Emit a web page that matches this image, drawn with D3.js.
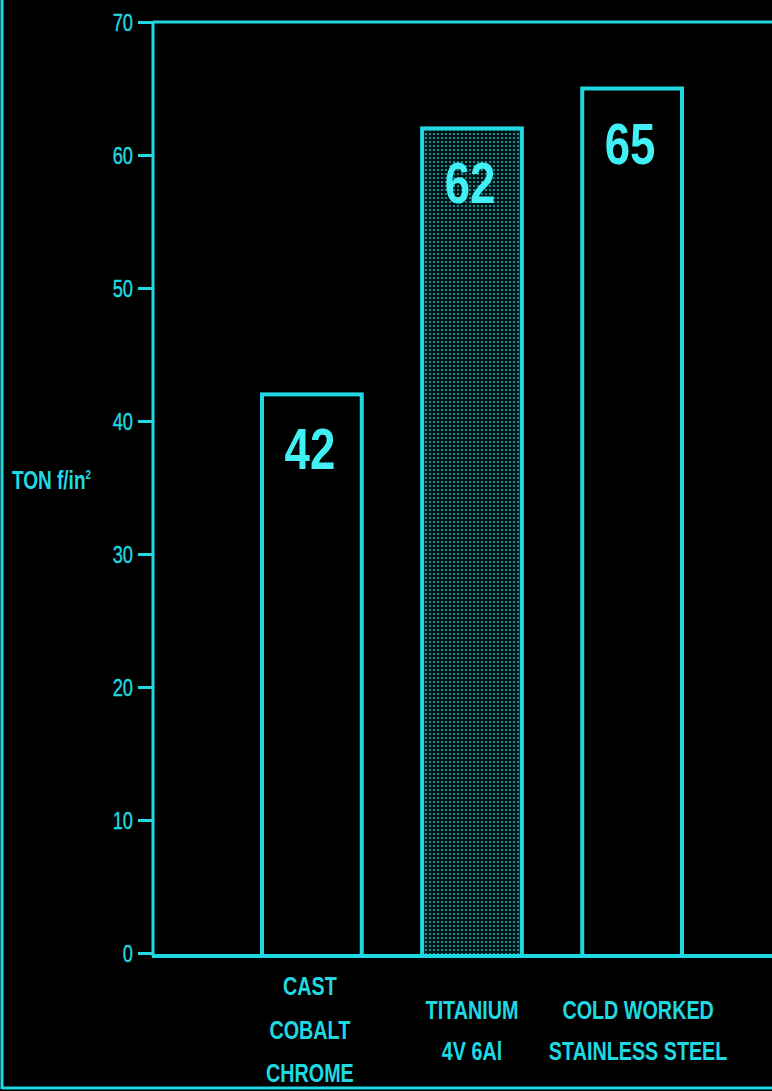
<!DOCTYPE html>
<html><head><meta charset="utf-8">
<script src="https://cdn.jsdelivr.net/npm/d3@7/dist/d3.min.js"></script>
<style>html,body{margin:0;padding:0;background:#000;}svg{display:block;}</style>
</head><body>
<script>
const categories = [["CAST","COBALT","CHROME"],["TITANIUM","4V 6Al"],["COLD WORKED","STAINLESS STEEL"]];
const values = [42, 62, 65];
const patterned = [false, true, false];
const yTicks = [0,10,20,30,40,50,60,70];
const yTitle = "TON f/in";

const W = 772, H = 1091;
const C = "#20d8e2";
const FONT = "'Liberation Sans',Arial,sans-serif";
const SX = 0.76; // horizontal condensing
const svg = d3.select("body").append("svg").attr("width", W).attr("height", H).style("background","#000");

const defs = svg.append("defs");
const pat = defs.append("pattern").attr("id","dots").attr("width",4).attr("height",4).attr("patternUnits","userSpaceOnUse");
pat.append("rect").attr("width",4).attr("height",4).attr("fill","#021416");
pat.append("circle").attr("cx",2).attr("cy",2).attr("r",1.1).attr("fill","#1aa6ae");

const x0 = 153, y0 = 953, yTop = 22;
const y = d3.scaleLinear().domain([0,70]).range([y0, yTop]);
const x = d3.scaleBand().domain(d3.range(values.length)).range([262, 682]).paddingInner(0.377).paddingOuter(0);

function ctext(g, cx, cy, txt, size, weight, fill, sx){
  return g.append("text").attr("transform",`translate(${cx},${cy}) scale(${sx||SX},1)`)
    .attr("text-anchor","middle").attr("fill",fill||C).attr("font-family",FONT)
    .attr("font-size",size).attr("font-weight",weight||"bold").text(txt);
}

// frame
svg.append("line").attr("x1",2).attr("x2",2).attr("y1",0).attr("y2",H-2).attr("stroke",C).attr("stroke-width",3);
svg.append("line").attr("x1",2).attr("x2",W).attr("y1",H-3).attr("y2",H-3).attr("stroke",C).attr("stroke-width",3);

// y axis
const yAxis = d3.axisLeft(y).tickValues(yTicks).tickSize(15).tickPadding(5).tickFormat(d3.format("d"));
const ga = svg.append("g").attr("transform",`translate(${x0},0)`).call(yAxis);
ga.select(".domain").remove();
ga.selectAll("line").attr("stroke",C).attr("stroke-width",3);
ga.selectAll("text").attr("fill",C).attr("font-family",FONT).attr("font-size",24).attr("font-weight","normal")
  .attr("x",0).attr("dy","0.36em").attr("transform",`translate(-20,0) scale(${SX},1)`).style("stroke",C).style("stroke-width",0.4);
svg.append("line").attr("x1",x0).attr("x2",x0).attr("y1",yTop).attr("y2",y0+3).attr("stroke",C).attr("stroke-width",3);
// top line
svg.append("line").attr("x1",x0).attr("x2",W).attr("y1",yTop).attr("y2",yTop).attr("stroke",C).attr("stroke-width",3);
// baseline
svg.append("line").attr("x1",x0-1).attr("x2",W).attr("y1",y0+3).attr("y2",y0+3).attr("stroke",C).attr("stroke-width",4);

// bars
const bars = svg.append("g").selectAll("g").data(values).join("g");
bars.append("rect")
  .attr("x",(d,i)=>x(i)).attr("width",x.bandwidth())
  .attr("y",d=>y(d)).attr("height",d=>y0+3-y(d))
  .attr("fill",(d,i)=>patterned[i]?"url(#dots)":"#000")
  .attr("stroke",C).attr("stroke-width",4);
bars.each(function(d,i){
  ctext(d3.select(this), x(i)+x.bandwidth()/2-2, y(d)+75, d, 57, "bold", "#40f0f4", 0.8);
});

// category labels
const catY = [[995,1039,1082],[1019,1060],[1019,1060]];
const catShift = [-2, 0, 6];
const lab = svg.append("g");
categories.forEach((lines,i)=>{
  lines.forEach((t,j)=>{
    ctext(lab, x(i)+x.bandwidth()/2 + catShift[i], catY[i][j], t, 26, "bold");
  });
});

// y title
const yt = svg.append("text").attr("transform",`translate(12,489) scale(${SX},1)`).attr("fill",C)
  .attr("font-family",FONT).attr("font-weight","bold").attr("font-size",25);
yt.append("tspan").text(yTitle);
yt.append("tspan").attr("dy",-10).attr("font-size",13).text("2");
</script>
</body></html>
